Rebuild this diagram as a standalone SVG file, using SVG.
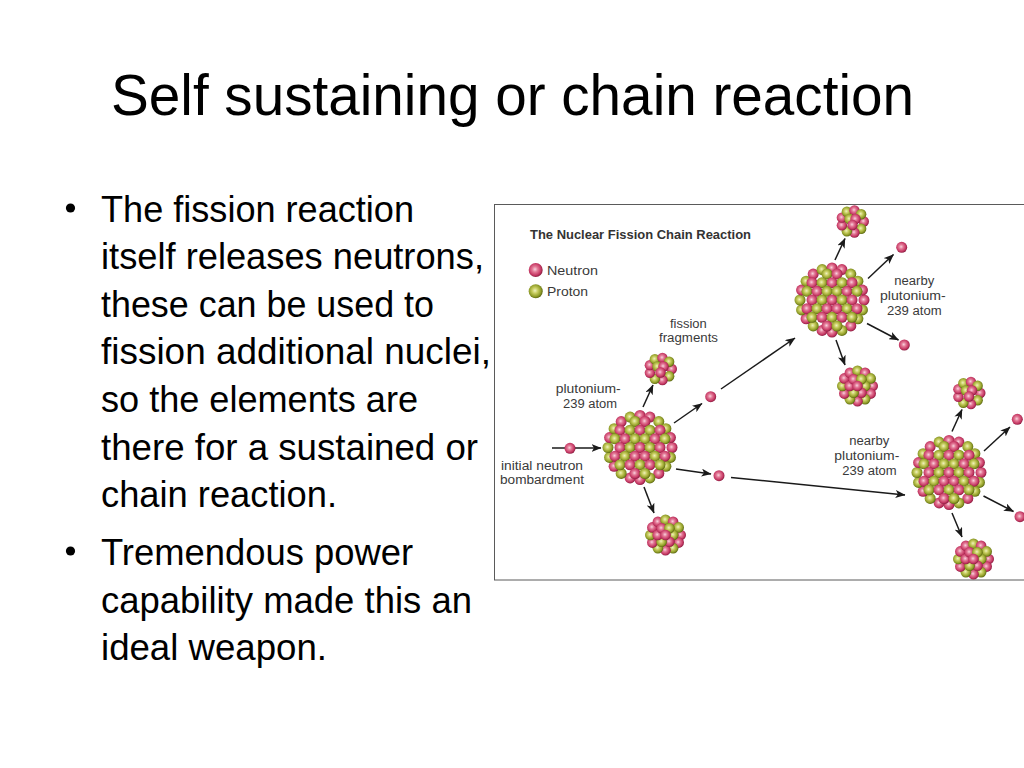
<svg xmlns="http://www.w3.org/2000/svg" xmlns:xlink="http://www.w3.org/1999/xlink" width="1024" height="768" viewBox="0 0 1024 768">
<style>
.title{font-family:"Liberation Sans",Arial,sans-serif;font-size:57px;fill:#000}
.body{font-family:"Liberation Sans",Arial,sans-serif;font-size:36px;fill:#000}
.lbl{font-family:"Liberation Sans",Arial,sans-serif;font-size:12px;fill:#3a3a3a}
.hd{font-family:"Liberation Sans",Arial,sans-serif;font-size:13.5px;font-weight:bold;fill:#333}
.n{fill:url(#gn)}
.p{fill:url(#gp)}
.con line{stroke:#1a1a1a;stroke-width:1.5;fill:none;marker-end:url(#ah)}
</style>
<defs>
<radialGradient id="gn" cx="45%" cy="45%" r="55%">
<stop offset="0" stop-color="#f9d3de"/>
<stop offset="0.35" stop-color="#e37a97"/>
<stop offset="0.78" stop-color="#c53763"/>
<stop offset="1" stop-color="#8c1f42"/>
</radialGradient>
<radialGradient id="gp" cx="45%" cy="45%" r="55%">
<stop offset="0" stop-color="#eff1bf"/>
<stop offset="0.35" stop-color="#c9cf63"/>
<stop offset="0.78" stop-color="#8f9c27"/>
<stop offset="1" stop-color="#5d6912"/>
</radialGradient>
<marker id="ah" markerWidth="10" markerHeight="8" refX="9.5" refY="4" orient="auto" markerUnits="userSpaceOnUse">
<path d="M0,0 L10,4 L0,8 L2.5,4 z" fill="#1a1a1a"/>
</marker>
<g id="big">
<circle class="n" cx="32" cy="0" r="5.5"/><circle class="p" cx="30.43" cy="9.89" r="5.5"/><circle class="p" cx="25.89" cy="18.81" r="5.5"/><circle class="n" cx="18.81" cy="25.89" r="5.5"/><circle class="p" cx="9.89" cy="30.43" r="5.5"/><circle class="n" cx="0" cy="32" r="5.5"/><circle class="n" cx="-9.89" cy="30.43" r="5.5"/><circle class="p" cx="-18.81" cy="25.89" r="5.5"/><circle class="n" cx="-25.89" cy="18.81" r="5.5"/><circle class="p" cx="-30.43" cy="9.89" r="5.5"/><circle class="p" cx="-32" cy="0" r="5.5"/><circle class="n" cx="-30.43" cy="-9.89" r="5.5"/><circle class="p" cx="-25.89" cy="-18.81" r="5.5"/><circle class="n" cx="-18.81" cy="-25.89" r="5.5"/><circle class="p" cx="-9.89" cy="-30.43" r="5.5"/><circle class="n" cx="0" cy="-32" r="5.5"/><circle class="n" cx="9.89" cy="-30.43" r="5.5"/><circle class="p" cx="18.81" cy="-25.89" r="5.5"/><circle class="p" cx="25.89" cy="-18.81" r="5.5"/><circle class="n" cx="30.43" cy="-9.89" r="5.5"/>
<circle class="p" cx="-5" cy="-26" r="5.5"/><circle class="n" cx="5" cy="-26" r="5.5"/>
<circle class="n" cx="-20" cy="-17.3" r="5.5"/><circle class="p" cx="-10" cy="-17.3" r="5.5"/><circle class="n" cx="0" cy="-17.3" r="5.5"/><circle class="p" cx="10" cy="-17.3" r="5.5"/><circle class="n" cx="20" cy="-17.3" r="5.5"/>
<circle class="p" cx="-25" cy="-8.66" r="5.5"/><circle class="n" cx="-15" cy="-8.66" r="5.5"/><circle class="p" cx="-5" cy="-8.66" r="5.5"/><circle class="p" cx="5" cy="-8.66" r="5.5"/><circle class="n" cx="15" cy="-8.66" r="5.5"/><circle class="p" cx="25" cy="-8.66" r="5.5"/>
<circle class="n" cx="-20" cy="0" r="5.5"/><circle class="p" cx="-10" cy="0" r="5.5"/><circle class="n" cx="0" cy="0" r="5.5"/><circle class="p" cx="10" cy="0" r="5.5"/><circle class="n" cx="20" cy="0" r="5.5"/>
<circle class="n" cx="-25" cy="8.66" r="5.5"/><circle class="p" cx="-15" cy="8.66" r="5.5"/><circle class="n" cx="-5" cy="8.66" r="5.5"/><circle class="n" cx="5" cy="8.66" r="5.5"/><circle class="p" cx="15" cy="8.66" r="5.5"/><circle class="n" cx="25" cy="8.66" r="5.5"/>
<circle class="p" cx="-20" cy="17.3" r="5.5"/><circle class="n" cx="-10" cy="17.3" r="5.5"/><circle class="p" cx="0" cy="17.3" r="5.5"/><circle class="n" cx="10" cy="17.3" r="5.5"/><circle class="p" cx="20" cy="17.3" r="5.5"/>
<circle class="n" cx="-5" cy="26" r="5.5"/><circle class="p" cx="5" cy="26" r="5.5"/>
</g>
<g id="fragS">
<circle class="n" cx="11.3" cy="0" r="5.2"/><circle class="p" cx="8.66" cy="7.26" r="5.2"/><circle class="n" cx="1.96" cy="11.13" r="5.2"/><circle class="p" cx="-5.65" cy="9.79" r="5.2"/><circle class="n" cx="-10.62" cy="3.86" r="5.2"/><circle class="n" cx="-10.62" cy="-3.86" r="5.2"/><circle class="p" cx="-5.65" cy="-9.79" r="5.2"/><circle class="n" cx="1.96" cy="-11.13" r="5.2"/><circle class="p" cx="8.66" cy="-7.26" r="5.2"/>
<circle class="p" cx="-3" cy="-2.5" r="5.2"/><circle class="n" cx="3" cy="-2.5" r="5.2"/><circle class="n" cx="0" cy="3.5" r="5.2"/>
</g>
<g id="fragL">
<circle class="n" cx="15.2" cy="0" r="5.3"/><circle class="n" cx="13.16" cy="7.6" r="5.3"/><circle class="p" cx="7.6" cy="13.16" r="5.3"/><circle class="n" cx="0" cy="15.2" r="5.3"/><circle class="p" cx="-7.6" cy="13.16" r="5.3"/><circle class="n" cx="-13.16" cy="7.6" r="5.3"/><circle class="p" cx="-15.2" cy="0" r="5.3"/><circle class="n" cx="-13.16" cy="-7.6" r="5.3"/><circle class="n" cx="-7.6" cy="-13.16" r="5.3"/><circle class="p" cx="0" cy="-15.2" r="5.3"/><circle class="n" cx="7.6" cy="-13.16" r="5.3"/><circle class="p" cx="13.16" cy="-7.6" r="5.3"/>
<circle class="p" cx="7.8" cy="0" r="5.3"/><circle class="n" cx="3.9" cy="6.75" r="5.3"/><circle class="p" cx="-3.9" cy="6.75" r="5.3"/><circle class="n" cx="-7.8" cy="0" r="5.3"/><circle class="n" cx="-3.9" cy="-6.75" r="5.3"/><circle class="p" cx="3.9" cy="-6.75" r="5.3"/>
<circle class="n" cx="0" cy="0" r="5.3"/>
</g>
</defs>
<rect width="1024" height="768" fill="#fff"/>
<text class="title" x="111" y="115" textLength="803" lengthAdjust="spacingAndGlyphs">Self sustaining or chain reaction</text>
<g id="bullets">
<circle cx="70.5" cy="208" r="4.6" fill="#000"/>
<circle cx="70.5" cy="551" r="4.6" fill="#000"/>
<text class="body" x="101" y="221.5" textLength="313" lengthAdjust="spacingAndGlyphs">The fission reaction</text>
<text class="body" x="101" y="269" textLength="383" lengthAdjust="spacingAndGlyphs">itself releases neutrons,</text>
<text class="body" x="101" y="316.5" textLength="333" lengthAdjust="spacingAndGlyphs">these can be used to</text>
<text class="body" x="101" y="364" textLength="390" lengthAdjust="spacingAndGlyphs">fission additional nuclei,</text>
<text class="body" x="101" y="411.5" textLength="317" lengthAdjust="spacingAndGlyphs">so the elements are</text>
<text class="body" x="101" y="459.5" textLength="377" lengthAdjust="spacingAndGlyphs">there for a sustained or</text>
<text class="body" x="101" y="507" textLength="236" lengthAdjust="spacingAndGlyphs">chain reaction.</text>
<text class="body" x="101" y="565" textLength="312" lengthAdjust="spacingAndGlyphs">Tremendous power</text>
<text class="body" x="101" y="612.5" textLength="371" lengthAdjust="spacingAndGlyphs">capability made this an</text>
<text class="body" x="101" y="660" textLength="226" lengthAdjust="spacingAndGlyphs">ideal weapon.</text>
</g>
<rect x="494.5" y="204.5" width="540" height="375.5" fill="#fff" stroke="#5a5a5a" stroke-width="1"/>
<text class="hd" x="530" y="239" textLength="221" lengthAdjust="spacingAndGlyphs">The Nuclear Fission Chain Reaction</text>
<g id="legend">
<circle class="n" cx="535.7" cy="270" r="7"/>
<circle class="p" cx="535.7" cy="291.3" r="7"/>
<text class="lbl" x="547" y="275" style="font-size:13px" textLength="51" lengthAdjust="spacingAndGlyphs">Neutron</text>
<text class="lbl" x="547" y="296" style="font-size:13px" textLength="41" lengthAdjust="spacingAndGlyphs">Proton</text>
</g>
<g class="con" id="connectors">
<line x1="552" y1="448" x2="601" y2="448"/>
<line x1="643" y1="407" x2="653" y2="385"/>
<line x1="674" y1="423" x2="702" y2="403.5"/>
<line x1="721" y1="389" x2="795" y2="338"/>
<line x1="676" y1="469" x2="711" y2="474"/>
<line x1="731" y1="477.5" x2="905" y2="495"/>
<line x1="644" y1="487" x2="654" y2="513"/>
<line x1="835" y1="260" x2="845" y2="238.5"/>
<line x1="868" y1="278.5" x2="893.5" y2="254.5"/>
<line x1="867" y1="323.5" x2="898.5" y2="340"/>
<line x1="836" y1="340" x2="845" y2="365"/>
<line x1="952" y1="431.5" x2="962" y2="409.5"/>
<line x1="984" y1="451" x2="1010" y2="427"/>
<line x1="983.5" y1="496" x2="1013.5" y2="511.5"/>
<line x1="952" y1="513" x2="962" y2="537"/>
</g>
<g id="initial-neutron"><circle class="n" cx="570" cy="448.3" r="5.5"/>
<text class="lbl" x="501" y="470" textLength="82" lengthAdjust="spacingAndGlyphs">initial neutron</text>
<text class="lbl" x="500" y="484" textLength="84" lengthAdjust="spacingAndGlyphs">bombardment</text></g>
<g id="pu239"><use xlink:href="#big" href="#big" transform="translate(640,447.5)"/>
<text class="lbl" x="555.7" y="393" textLength="65" lengthAdjust="spacingAndGlyphs">plutonium-</text>
<text class="lbl" x="563" y="407.5" textLength="54" lengthAdjust="spacingAndGlyphs">239 atom</text></g>
<g id="fragment1"><use xlink:href="#fragS" href="#fragS" transform="translate(660.5,369)"/>
<text class="lbl" x="670" y="327.5" textLength="36.7" lengthAdjust="spacingAndGlyphs">fission</text>
<text class="lbl" x="659" y="341.5" textLength="59" lengthAdjust="spacingAndGlyphs">fragments</text></g>
<g id="fragment2"><use xlink:href="#fragL" href="#fragL" transform="translate(665.5,535)"/></g>
<g id="neutron-a"><circle class="n" cx="710.7" cy="396.7" r="5.5"/></g>
<g id="neutron-b"><circle class="n" cx="719" cy="475.7" r="5.5"/></g>
<g id="nearby1"><use xlink:href="#big" href="#big" transform="translate(832,300)"/>
<text class="lbl" x="894.3" y="285" textLength="40" lengthAdjust="spacingAndGlyphs">nearby</text>
<text class="lbl" x="880" y="300" textLength="65.7" lengthAdjust="spacingAndGlyphs">plutonium-</text>
<text class="lbl" x="887" y="315" textLength="54.7" lengthAdjust="spacingAndGlyphs">239 atom</text></g>
<g id="fragment3"><use xlink:href="#fragS" href="#fragS" transform="translate(852.5,221.5)"/></g>
<g id="fragment4"><use xlink:href="#fragL" href="#fragL" transform="translate(857.5,386)"/></g>
<g id="neutron-c"><circle class="n" cx="901.7" cy="247.3" r="5.5"/></g>
<g id="neutron-d"><circle class="n" cx="904.3" cy="345" r="5.5"/></g>
<g id="nearby2"><use xlink:href="#big" href="#big" transform="translate(949,472.5)"/>
<text class="lbl" x="849.3" y="445" textLength="40" lengthAdjust="spacingAndGlyphs">nearby</text>
<text class="lbl" x="834.3" y="460" textLength="65" lengthAdjust="spacingAndGlyphs">plutonium-</text>
<text class="lbl" x="842.3" y="475" textLength="54.4" lengthAdjust="spacingAndGlyphs">239 atom</text></g>
<g id="fragment5"><use xlink:href="#fragS" href="#fragS" transform="translate(969,393)"/></g>
<g id="fragment6"><use xlink:href="#fragL" href="#fragL" transform="translate(973.5,559)"/></g>
<g id="neutron-e"><circle class="n" cx="1017.3" cy="419.3" r="5.5"/></g>
<g id="neutron-f"><circle class="n" cx="1020" cy="516.7" r="5.5"/></g>
</svg>
